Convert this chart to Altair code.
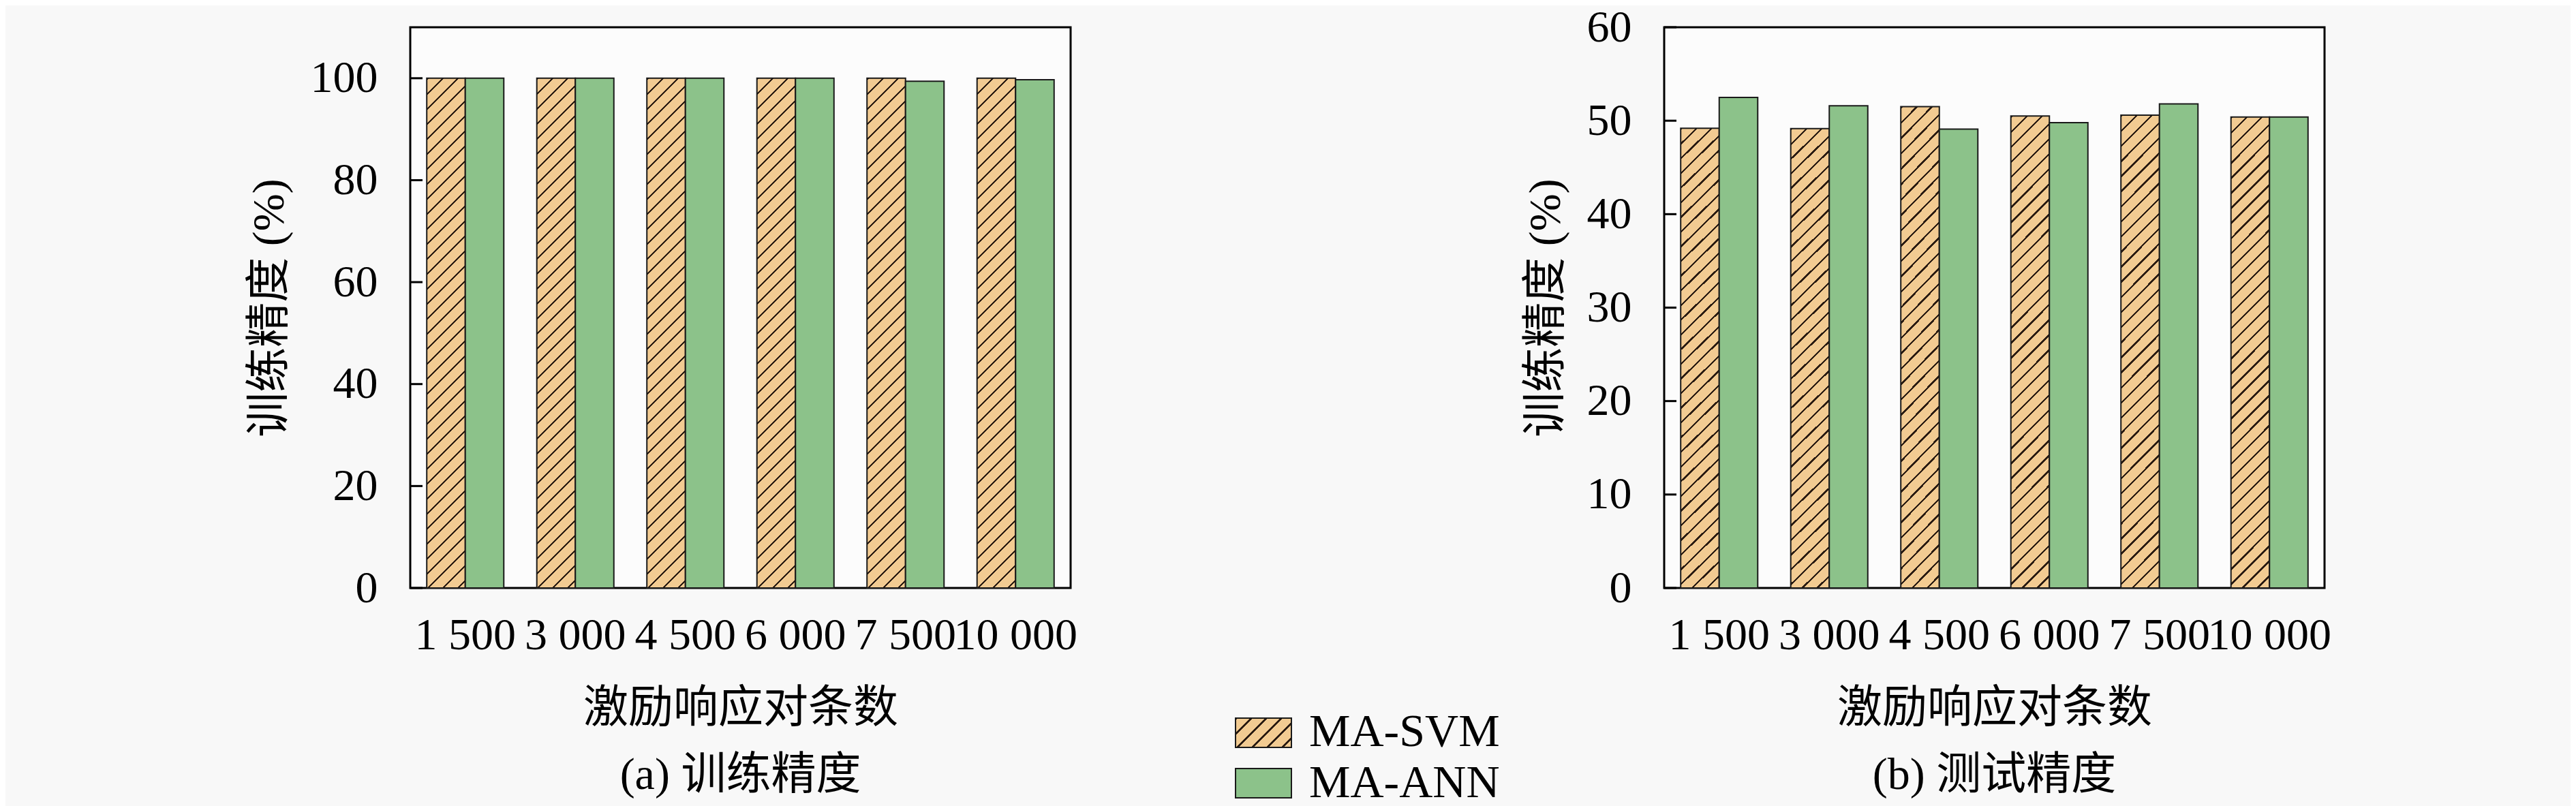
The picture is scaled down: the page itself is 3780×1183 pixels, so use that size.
import altair as alt
import pandas as pd

# ---------------- data ----------------
categories = ["1 500", "3 000", "4 500", "6 000", "7 500", "10 000"]
series = ["MA-SVM", "MA-ANN"]
train_svm = [100, 100, 100, 100, 100, 100]
train_ann = [100, 100, 100, 100, 99.4, 99.7]
test_svm = [49.2, 49.15, 51.5, 50.5, 50.6, 50.4]
test_ann = [52.5, 51.6, 49.1, 49.8, 51.8, 50.4]
train_ticks = [0, 20, 40, 60, 80, 100]
test_ticks = [0, 10, 20, 30, 40, 50, 60]
panel_titles = ["(a) 训练精度", "(b) 测试精度"]
y_title = "训练精度 (%)"
x_title = "激励响应对条数"

# ---------------- style ----------------
ORANGE = "#F2CB92"
GREEN = "#8CC28A"
HATCH = "#2b1c12"
EDGE = "#1a1a1a"
BG = "#f8f8f8"
SERIF = "Liberation Serif, Noto Sans CJK SC"
PW, PH = 969, 823
BAR_W = PW / 6 * 0.7 / 2


def hatch(w, h, spacing=22.0, lw=3.4, bg=ORANGE, fg=HATCH):
    r = h / w
    s = (1 + r) / (1 + r * r)
    n = (w + h) / spacing
    f = lw / spacing
    stops = []
    k = 0
    while k / n < 1:
        a = k / n
        b = min((k + f) / n, 1.0)
        c = min((k + 1) / n, 1.0)
        stops += [(a, fg), (b, fg), (b, bg), (c, bg)]
        k += 1
    return alt.LinearGradient(
        gradient="linear", x1=0, y1=0, x2=s, y2=s * r,
        stops=[alt.GradientStop(offset=round(o, 5), color=col) for o, col in stops],
    )


def panel(svm, ann, ymax, ticks, title):
    df = pd.DataFrame({
        "cat": categories * 2,
        "series": [series[0]] * len(categories) + [series[1]] * len(categories),
        "value": svm + ann,
    })
    tick_df = pd.DataFrame({"value": ticks})
    bar_h = PH * (sum(svm) / len(svm)) / ymax
    x = alt.X("cat:N", sort=categories,
              scale=alt.Scale(paddingInner=0.3, paddingOuter=0.15),
              axis=alt.Axis(title=x_title, labelAngle=0, ticks=False, domain=False,
                            labelOverlap=False, labelLimit=600, labelPadding=37,
                            labelFont=SERIF, labelFontSize=66, labelColor="black",
                            titleFont=SERIF, titleFontSize=66, titleFontWeight="normal",
                            titleColor="black", titlePadding=42))
    xo = alt.XOffset("series:N", sort=series, scale=alt.Scale(domain=series))
    y = alt.Y("value:Q", scale=alt.Scale(domain=[0, ymax], nice=False, zero=True),
              axis=alt.Axis(values=ticks, title=y_title, ticks=False, domain=False, grid=False,
                            labelPadding=48, labelFont=SERIF, labelFontSize=66,
                            labelColor="black", titleFont=SERIF, titleFontSize=66,
                            titleFontWeight="normal", titleColor="black", titlePadding=26))
    base = alt.Chart(df)
    svm_bars = base.transform_filter(alt.datum.series == series[0]).mark_bar(
        fill=hatch(BAR_W, bar_h), stroke=EDGE, strokeWidth=2
    ).encode(x=x, xOffset=xo, y=y)
    ann_bars = base.transform_filter(alt.datum.series == series[1]).mark_bar(
        fill=GREEN, stroke=EDGE, strokeWidth=2
    ).encode(x=x, xOffset=xo, y=y)
    tick_rules = alt.Chart(tick_df).mark_rule(color="black", strokeWidth=3).encode(
        y=y, x=alt.value(0), x2=alt.value(18)
    )
    return alt.layer(svm_bars, ann_bars, tick_rules).properties(
        width=PW, height=PH,
        title=alt.TitleParams(title, orient="bottom", anchor="middle", frame="group",
                              font=SERIF, fontSize=66, fontWeight="normal",
                              color="black", offset=34),
    )


left = panel(train_svm, train_ann, 110, train_ticks, panel_titles[0])
right = panel(test_svm, test_ann, 60, test_ticks, panel_titles[1])

# ---------------- legend panel ----------------
leg_df = pd.DataFrame({"series": series})
ly = alt.Y("series:N", sort=series, axis=None,
           scale=alt.Scale(domain=series, range=[1014, 1131], paddingInner=0.42, paddingOuter=0))
leg_base = alt.Chart(leg_df)
leg_svm = leg_base.transform_filter(alt.datum.series == series[0]).mark_rect(
    fill=hatch(82, 43), stroke=EDGE, strokeWidth=2
).encode(y=ly, x=alt.value(0), x2=alt.value(82))
leg_ann = leg_base.transform_filter(alt.datum.series == series[1]).mark_rect(
    fill=GREEN, stroke=EDGE, strokeWidth=2
).encode(y=ly, x=alt.value(0), x2=alt.value(82))
leg_text = leg_base.mark_text(align="left", baseline="middle", font=SERIF,
                              fontSize=68, color="black").encode(
    y=ly, x=alt.value(108), text="series:N")
legend = alt.layer(leg_svm, leg_ann, leg_text).properties(
    width=387, height=PH,
    view=alt.ViewBackground(strokeOpacity=0, fill=BG),
)

chart = alt.hconcat(left, legend, right, spacing=242, bounds="flush").resolve_scale(
    x="independent", y="independent", xOffset="independent"
).properties(
    padding={"left": 352, "top": -3, "right": 350, "bottom": 0},
    background=BG,
).configure_view(
    stroke="black", strokeWidth=3, fill="#fcfcfc"
)

chart.save("out.html", embed_options={"renderer": "svg", "actions": False})
